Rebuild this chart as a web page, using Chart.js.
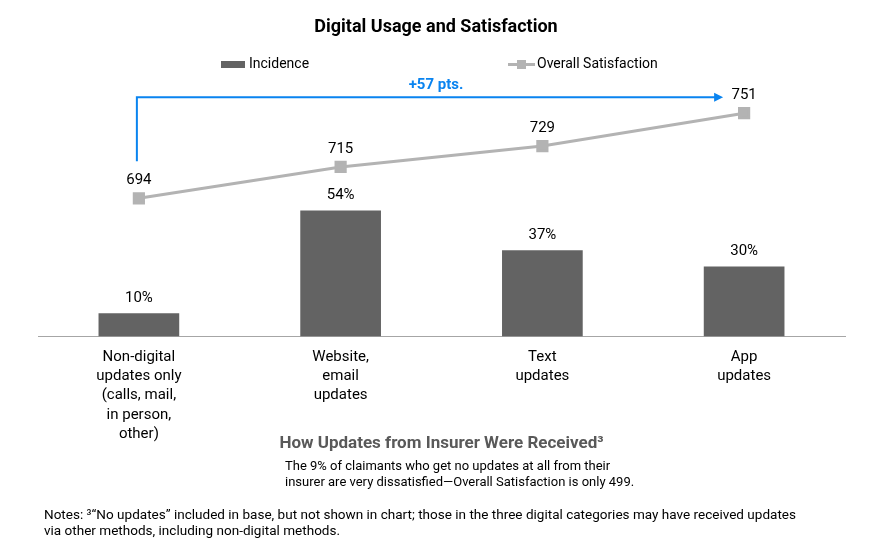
<!DOCTYPE html>
<html>
<head>
<meta charset="utf-8">
<script src="https://cdn.jsdelivr.net/npm/chart.js@4.4.1/dist/chart.umd.min.js"></script>
<style>
  html, body { margin: 0; padding: 0; background: #fff; }
  #wrap { width: 877px; height: 558px; position: relative; }
</style>
</head>
<body>
<div id="wrap"><canvas id="chart"></canvas></div>
<script>
const categories = [
  ['Non-digital', 'updates only', '(calls, mail,', 'in person,', 'other)'],
  ['Website,', 'email', 'updates'],
  ['Text', 'updates'],
  ['App', 'updates']
];
const incidence = [10, 54, 37, 30];
const satisfaction = [694, 715, 729, 751];
const changeLabel = '+57 pts.';
const chartTitle = 'Digital Usage and Satisfaction';
const axisTitle = 'How Updates from Insurer Were Received\u00B3';
const subNote = ['The 9% of claimants who get no updates at all from their',
  'insurer are very dissatisfied\u2014Overall Satisfaction is only 499.'];
const footNotes = ['Notes: \u00B3\u201CNo updates\u201D included in base, but not shown in chart; those in the three digital categories may have received updates',
  'via other methods, including non-digital methods.'];

const BAR = '#636363', LINE = '#b3b3b3', BLUE = '#0a84f0';
const FONT = 'Roboto, "Noto Sans", sans-serif';

// labels, arrow, legend, title and notes
const extras = {
  id: 'extras',
  afterDatasetsDraw(chart) {
    const ctx = chart.ctx;
    const x = chart.scales.x, y1 = chart.scales.y1;
    ctx.save();
    ctx.fillStyle = '#000';
    ctx.textAlign = 'center';
    ctx.textBaseline = 'middle';
    ctx.font = '15px ' + FONT;
    chart.getDatasetMeta(1).data.forEach((el, i) => {
      ctx.fillText(incidence[i] + '%', el.x, el.y - 15);
    });
    chart.getDatasetMeta(0).data.forEach((el, i) => {
      ctx.fillText(String(satisfaction[i]), el.x, el.y - 18);
    });

    // bracket arrow
    const x0 = x.getPixelForValue(0) - 2, x1 = x.getPixelForValue(3) - 21;
    const yb = y1.getPixelForValue(satisfaction[0]) - 37;
    const yt = y1.getPixelForValue(satisfaction[3]) - 16;
    ctx.strokeStyle = BLUE; ctx.fillStyle = BLUE; ctx.lineWidth = 2;
    ctx.beginPath();
    ctx.moveTo(x0, yb); ctx.lineTo(x0, yt); ctx.lineTo(x1 - 6, yt);
    ctx.stroke();
    ctx.beginPath();
    ctx.moveTo(x1, yt); ctx.lineTo(x1 - 9, yt - 4.5); ctx.lineTo(x1 - 9, yt + 4.5);
    ctx.closePath(); ctx.fill();
    ctx.font = 'bold 15px ' + FONT;
    ctx.fillText(changeLabel, (x0 + x1) / 2 + 6, yt - 12);

    // title
    ctx.fillStyle = '#000';
    ctx.font = 'bold 18px ' + FONT;
    ctx.fillText(chartTitle, 436, 27);

    // legend
    ctx.font = '14px ' + FONT;
    ctx.textAlign = 'left';
    ctx.fillStyle = BAR;
    ctx.fillRect(221, 61, 24, 7);
    ctx.fillStyle = '#000';
    ctx.fillText('Incidence', 249, 64);
    ctx.strokeStyle = LINE; ctx.lineWidth = 3;
    ctx.beginPath(); ctx.moveTo(508, 64.5); ctx.lineTo(535, 64.5); ctx.stroke();
    ctx.fillStyle = LINE;
    ctx.fillRect(517, 60, 9, 9);
    ctx.fillStyle = '#000';
    ctx.fillText('Overall Satisfaction', 537, 64);

    // sub note
    ctx.font = '13px ' + FONT;
    subNote.forEach((t, i) => ctx.fillText(t, 285, 467 + i * 16));

    // foot notes, condensed
    ctx.font = '13.5px ' + FONT;
    const w = ctx.measureText(footNotes[0]).width;
    const s = 752 / w;
    ctx.translate(44, 0);
    ctx.scale(s, 1);
    footNotes.forEach((t, i) => ctx.fillText(t, 0, 516 + i * 16));
    ctx.restore();
  }
};

new Chart(document.getElementById('chart'), {
  data: {
    labels: categories,
    datasets: [
      {
        type: 'line', label: 'Overall Satisfaction', data: satisfaction, yAxisID: 'y1',
        borderColor: LINE, backgroundColor: LINE, borderWidth: 3,
        pointStyle: 'rect', pointRadius: 6.5, pointHoverRadius: 6.5, order: 0
      },
      {
        type: 'bar', label: 'Incidence', data: incidence, yAxisID: 'y',
        backgroundColor: BAR, barPercentage: 0.8, categoryPercentage: 0.5, order: 1
      }
    ]
  },
  options: {
    responsive: true,
    maintainAspectRatio: false,
    animation: false,
    layout: { padding: { top: 103, left: 38, right: 32, bottom: 104 } },
    plugins: { legend: { display: false }, title: { display: false }, tooltip: { enabled: false } },
    scales: {
      x: {
        grid: { display: false },
        border: { display: true, color: '#a6a6a6', width: 1 },
        ticks: { color: '#000', padding: 3, maxRotation: 0, autoSkip: false,
          font: { family: FONT, size: 15, lineHeight: 1.28 } },
        title: { display: true, text: axisTitle, color: '#595959',
          font: { family: FONT, size: 17, weight: 'bold' }, padding: { top: -13, bottom: 0 } }
      },
      y: { display: false, min: 0, max: 100 },
      y1: { display: false, min: 601.5, max: 757.8 }
    }
  },
  plugins: [extras]
});
</script>
</body>
</html>
